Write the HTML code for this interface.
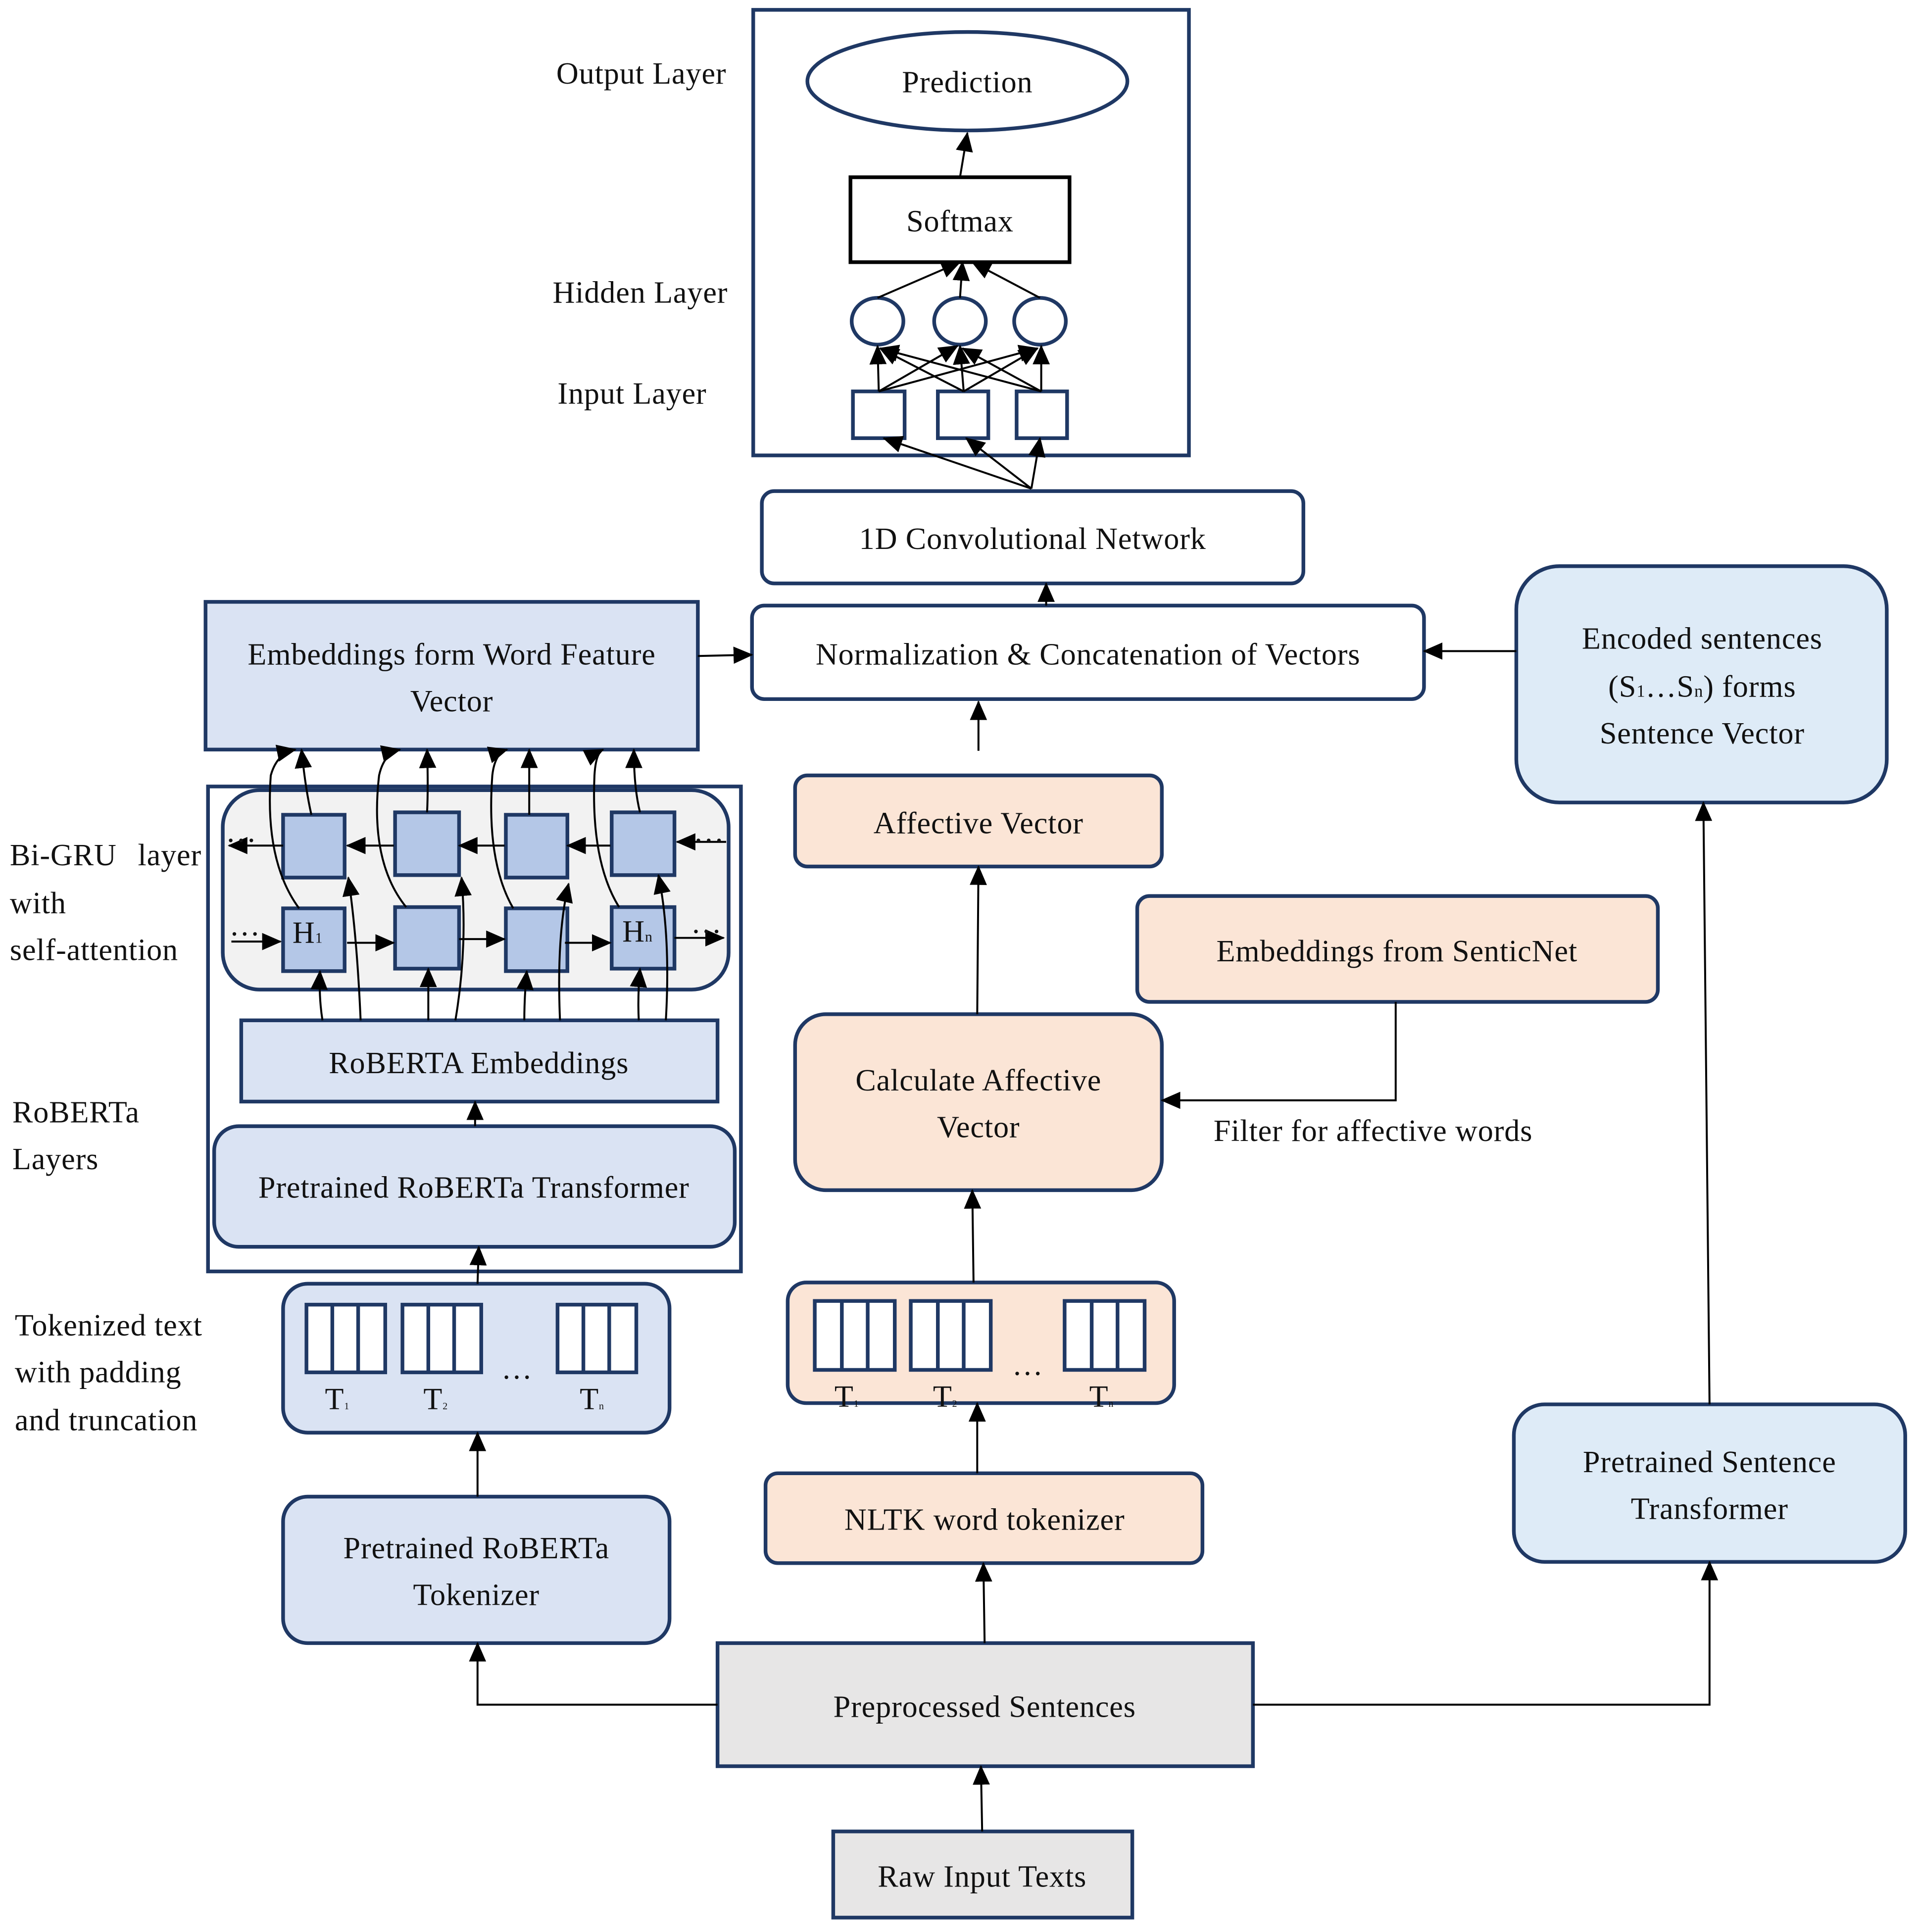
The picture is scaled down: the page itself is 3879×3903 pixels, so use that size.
<!DOCTYPE html>
<html><head><meta charset="utf-8"><style>
html,body{margin:0;padding:0;background:#fff;}
svg{display:block;}
text{font-family:"Liberation Serif",serif;font-size:25px;fill:#111;letter-spacing:0.35px;}
</style></head><body>
<svg width="3879" height="3903" viewBox="0 0 1560 1569.7" preserveAspectRatio="none" xmlns="http://www.w3.org/2000/svg">
<defs>
<marker id="a" markerUnits="userSpaceOnUse" markerWidth="16" markerHeight="14" refX="15" refY="7" orient="auto">
<path d="M0,0 L16,7 L0,14 Z" fill="#000"/></marker>
</defs>
<g stroke="#1f3864" stroke-width="3">
<rect x="612" y="8" width="354" height="362" fill="none"/>
<ellipse cx="786" cy="66" rx="130" ry="40" fill="#fff"/>
<rect x="691" y="144" width="178" height="69" fill="#fff" stroke="#000"/>
<ellipse cx="713" cy="261" rx="21" ry="19" fill="#fff"/>
<ellipse cx="780" cy="261" rx="21" ry="19" fill="#fff"/>
<ellipse cx="845" cy="261" rx="21" ry="19" fill="#fff"/>
<rect x="693" y="318" width="42" height="38" fill="#fff"/>
<rect x="762" y="318" width="41" height="38" fill="#fff"/>
<rect x="826" y="318" width="41" height="38" fill="#fff"/>
<rect x="619" y="399" width="440" height="75" rx="10" fill="#fff"/>
<rect x="611" y="492" width="546" height="76" rx="10" fill="#fff"/>
<rect x="167" y="489" width="400" height="120" fill="#dae3f3"/>
<rect x="1232" y="460" width="301" height="192" rx="35" fill="#deebf7"/>
<rect x="646" y="630" width="298" height="74" rx="10" fill="#fbe5d6"/>
<rect x="924" y="728" width="423" height="86" rx="10" fill="#fbe5d6"/>
<rect x="646" y="824" width="298" height="143" rx="25" fill="#fbe5d6"/>
<rect x="640" y="1042" width="314" height="98" rx="15" fill="#fbe5d6"/>
<rect x="622" y="1197" width="355" height="73" rx="10" fill="#fbe5d6"/>
<rect x="583" y="1335" width="435" height="100" fill="#e7e6e6"/>
<rect x="677" y="1488" width="243" height="70" fill="#e7e6e6"/>
<rect x="1230" y="1141" width="318" height="128" rx="25" fill="#deebf7"/>
<rect x="230" y="1216" width="314" height="119" rx="20" fill="#dae3f3"/>
<rect x="230" y="1043" width="314" height="121" rx="20" fill="#dae3f3"/>
<rect x="169" y="639" width="433" height="394" fill="none"/>
<rect x="174" y="915" width="423" height="98" rx="20" fill="#dae3f3"/>
<rect x="196" y="829" width="387" height="66" fill="#dae3f3"/>
<rect x="181" y="642" width="411" height="162" rx="30" fill="#f2f2f2"/>
</g>
<g stroke="#1f3864" stroke-width="3" fill="#fff">
<rect x="662" y="1057" width="65" height="56"/><line x1="684" y1="1057" x2="684" y2="1113"/><line x1="705" y1="1057" x2="705" y2="1113"/>
<rect x="740" y="1057" width="65" height="56"/><line x1="762" y1="1057" x2="762" y2="1113"/><line x1="783" y1="1057" x2="783" y2="1113"/>
<rect x="865" y="1057" width="65" height="56"/><line x1="887" y1="1057" x2="887" y2="1113"/><line x1="908" y1="1057" x2="908" y2="1113"/>
<rect x="249" y="1060" width="64" height="55"/><line x1="270" y1="1060" x2="270" y2="1115"/><line x1="291" y1="1060" x2="291" y2="1115"/>
<rect x="327" y="1060" width="64" height="55"/><line x1="348" y1="1060" x2="348" y2="1115"/><line x1="369" y1="1060" x2="369" y2="1115"/>
<rect x="453" y="1060" width="64" height="55"/><line x1="474" y1="1060" x2="474" y2="1115"/><line x1="495" y1="1060" x2="495" y2="1115"/>
</g>
<g stroke="#1f3864" stroke-width="3" fill="#b4c7e7">
<rect x="230" y="662" width="50" height="51"/><rect x="321" y="660" width="52" height="51"/><rect x="411" y="662" width="50" height="51"/><rect x="497" y="660" width="51" height="51"/>
<rect x="230" y="738" width="50" height="51"/><rect x="321" y="737" width="52" height="50"/><rect x="411" y="738" width="50" height="51"/><rect x="497" y="737" width="51" height="50"/>
</g>
<g stroke="#000" stroke-width="1.6" fill="none" marker-end="url(#a)">
<line x1="780" y1="144" x2="786" y2="108"/>
<line x1="713" y1="242" x2="780" y2="213"/><line x1="780" y1="242" x2="782" y2="213"/><line x1="845" y1="242" x2="790" y2="213"/>
<line x1="714" y1="318" x2="713" y2="281"/><line x1="714" y1="318" x2="778" y2="281"/><line x1="714" y1="318" x2="843" y2="283"/>
<line x1="783" y1="318" x2="715" y2="283"/><line x1="783" y1="318" x2="780" y2="281"/><line x1="783" y1="318" x2="843" y2="283"/>
<line x1="846" y1="318" x2="715" y2="283"/><line x1="846" y1="318" x2="782" y2="283"/><line x1="846" y1="318" x2="846" y2="281"/>
<line x1="838" y1="397" x2="718" y2="356"/><line x1="838" y1="397" x2="785" y2="356"/><line x1="838" y1="397" x2="845" y2="356"/>
<line x1="850" y1="492" x2="850" y2="474"/>
<line x1="567" y1="533" x2="611" y2="532"/>
<line x1="1232" y1="529" x2="1157" y2="529"/>
<line x1="795" y1="610" x2="795" y2="570"/>
<line x1="794" y1="824" x2="795" y2="704"/>
<polyline points="1134,814 1134,894 944,894"/>
<line x1="791" y1="1042" x2="790" y2="967"/>
<line x1="794" y1="1197" x2="794" y2="1140"/>
<line x1="800" y1="1335" x2="799" y2="1270"/>
<polyline points="583,1385 388,1385 388,1335"/>
<polyline points="1018,1385 1389,1385 1389,1269"/>
<line x1="798" y1="1488" x2="797" y2="1435"/>
<line x1="1389" y1="1141" x2="1384" y2="652"/>
<line x1="388" y1="1216" x2="388" y2="1164"/>
<line x1="388" y1="1043" x2="389" y2="1013"/>
<line x1="386" y1="915" x2="386" y2="895"/>
<line x1="320" y1="687" x2="282" y2="687"/><line x1="410" y1="687" x2="373" y2="687"/><line x1="496" y1="687" x2="461" y2="687"/><line x1="590" y1="684" x2="550" y2="684"/><line x1="230" y1="687" x2="186" y2="687"/>
<line x1="188" y1="765" x2="228" y2="765"/><line x1="282" y1="766" x2="320" y2="766"/><line x1="373" y1="763" x2="410" y2="763"/><line x1="459" y1="766" x2="496" y2="766"/><line x1="548" y1="762" x2="588" y2="762"/>
<path d="M262,829 Q259,810 260,789"/><line x1="348" y1="829" x2="348" y2="787"/><path d="M426,829 Q426,810 428,789"/><path d="M519,829 Q518,810 520,787"/>
<path d="M293,829 Q290,760 283,713"/><path d="M370,829 Q380,770 375,713"/><path d="M455,829 Q452,760 462,718"/><path d="M541,829 Q545,760 535,711"/>
<path d="M253,662 Q248,640 245,609"/><path d="M347,660 Q348,640 347,609"/><line x1="430" y1="662" x2="430" y2="609"/><path d="M520,660 Q515,640 515,609"/>
<path d="M243,738 Q215,700 220,630 Q225,612 240,609"/><path d="M330,737 Q300,700 308,630 Q312,612 325,609"/><path d="M417,738 Q395,700 400,630 Q402,612 412,609"/><path d="M503,737 Q480,700 483,630 Q484,612 490,609"/>
</g>
<g text-anchor="middle">
<text x="786" y="75">Prediction</text>
<text x="780" y="188">Softmax</text>
<text x="839" y="446">1D Convolutional Network</text>
<text x="884" y="540">Normalization &amp; Concatenation of Vectors</text>
<text x="367" y="540">Embeddings form Word Feature</text>
<text x="367" y="578">Vector</text>
<text x="1383" y="527">Encoded sentences</text>
<text x="1383" y="566">(S<tspan font-size="14">1</tspan>…S<tspan font-size="14">n</tspan>) forms</text>
<text x="1383" y="604">Sentence Vector</text>
<text x="795" y="677">Affective Vector</text>
<text x="1135" y="781">Embeddings from SenticNet</text>
<text x="795" y="886">Calculate Affective</text>
<text x="795" y="924">Vector</text>
<text x="800" y="1243">NLTK word tokenizer</text>
<text x="800" y="1395">Preprocessed Sentences</text>
<text x="798" y="1533">Raw Input Texts</text>
<text x="1389" y="1196">Pretrained Sentence</text>
<text x="1389" y="1234">Transformer</text>
<text x="387" y="1266">Pretrained RoBERTa</text>
<text x="387" y="1304">Tokenizer</text>
<text x="385" y="973">Pretrained RoBERTa Transformer</text>
<text x="389" y="872">RoBERTA Embeddings</text>
<text x="420" y="1120">…</text>
<text x="835" y="1117">…</text>
<text x="274" y="1145" font-size="11">T<tspan font-size="8">1</tspan></text>
<text x="354" y="1145" font-size="11">T<tspan font-size="8">2</tspan></text>
<text x="481" y="1145" font-size="11">T<tspan font-size="8">n</tspan></text>
<text x="688" y="1143" font-size="11">T<tspan font-size="8">1</tspan></text>
<text x="768" y="1143" font-size="11">T<tspan font-size="8">2</tspan></text>
<text x="895" y="1143" font-size="11">T<tspan font-size="8">n</tspan></text>
<text x="250" y="766" font-size="17">H<tspan font-size="12">1</tspan></text>
<text x="518" y="765" font-size="17">H<tspan font-size="12">n</tspan></text>
<text x="196" y="684" font-size="18">…</text>
<text x="576" y="684" font-size="18">…</text>
<text x="199" y="760" font-size="18">…</text>
<text x="574" y="758" font-size="18">…</text>
</g>
<text x="452" y="68">Output Layer</text>
<text x="449" y="246">Hidden Layer</text>
<text x="453" y="328">Input Layer</text>
<text x="8" y="703">Bi-GRU</text><text x="112" y="703">layer</text>
<text x="8" y="742">with</text>
<text x="8" y="780">self-attention</text>
<text x="10" y="912">RoBERTa</text>
<text x="10" y="950">Layers</text>
<text x="12" y="1085">Tokenized text</text>
<text x="12" y="1123">with padding</text>
<text x="12" y="1162">and truncation</text>
<text x="986" y="927">Filter for affective words</text>
</svg>
</body></html>
